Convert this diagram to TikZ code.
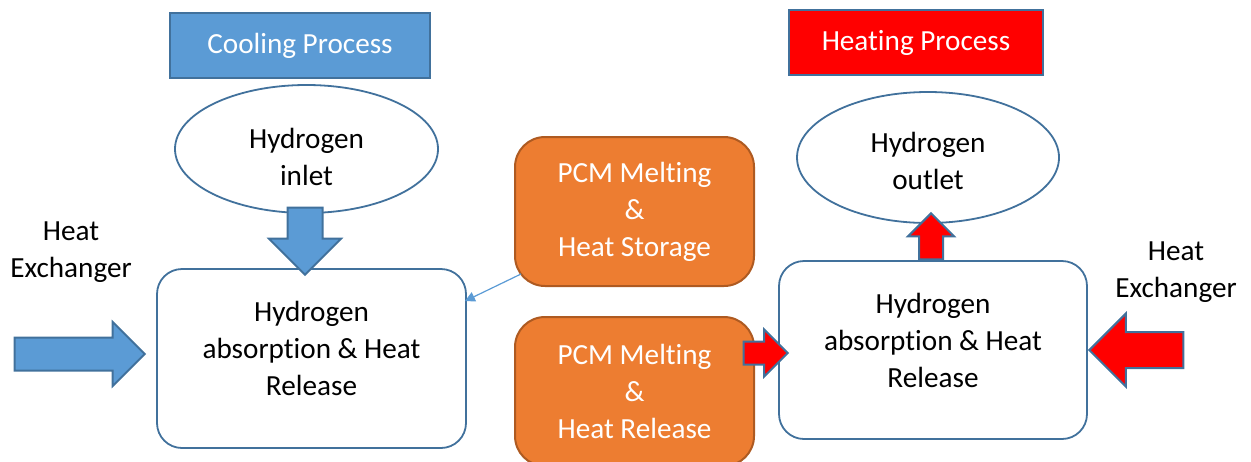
\documentclass[tikz,border=0pt]{standalone}
\usepackage{fontspec}
\setmainfont{Carlito}[Ligatures=NoCommon]
\usepackage{tikz}
\usetikzlibrary{positioning,shapes,arrows.meta,calc}
\definecolor{coolblue}{HTML}{5B9BD5}
\definecolor{edgeblue}{HTML}{41719C}
\definecolor{pcmorange}{HTML}{ED7D31}
\definecolor{edgeorange}{HTML}{AE5A21}
\definecolor{hotred}{HTML}{FF0000}

\tikzset{
  every node/.style={font=\fontsize{14.6}{18.5}\selectfont, align=center, inner sep=0pt},
  procbox/.style={rectangle, draw=edgeblue, line width=1.3pt, text=white, minimum width=#1, minimum height=32.5pt},
  gasball/.style={ellipse, draw=edgeblue, line width=0.9pt, fill=white, minimum width=131.5pt, minimum height=64pt},
  hydbox/.style={rectangle, rounded corners=12.5pt, draw=edgeblue, line width=0.9pt, minimum width=154.5pt, minimum height=89.5pt},
  pcmbox/.style={rectangle, rounded corners=15pt, draw=edgeorange, fill=pcmorange, line width=1pt, text=white, minimum width=119.5pt, minimum height=74.5pt},
  blockarrow/.style={single arrow, draw=edgeblue, line width=1pt, single arrow tip angle=90, anchor=tip, inner sep=0pt}
}

\begin{document}
\begin{tikzpicture}[x=0.5pt,y=-0.5pt]
            \useasboundingbox (0,0) rectangle (1251,461);
            \node[procbox=130pt, fill=coolblue] (cooling) at (300,45.5) {Cooling Process};
            \node[procbox=127pt, fill=hotred] (heating) at (916,42.5) {Heating Process};
            \node[gasball] (inlet) at (306.5,149) {};
            \node (inlettext) at ([yshift=-4pt]inlet.center) {Hydrogen\\inlet};
            \node[gasball, minimum width=131pt, minimum height=65.5pt] (outlet) at (928,157.5) {};
            \node (outlettext) at ([yshift=-1.5pt]outlet.center) {Hydrogen\\outlet};
            \node[hydbox] (leftbox) at (311.5,358.5) {};
            \node (lefttext) at ([yshift=5pt]leftbox.center) {Hydrogen\\absorption \& Heat\\Release};
            \node[hydbox, minimum width=154pt, minimum height=89pt] (rightbox) at (933,350) {};
            \node (righttext) at ([yshift=5pt]rightbox.center) {Hydrogen\\absorption \& Heat\\Release};
            \node[pcmbox] (pcmtop) at (634.5,211.5) {PCM Melting\\\&\\Heat Storage};
            \node[pcmbox] (pcmbot) at (634.5,391.5) {PCM Melting\\\&\\Heat Release};
            \node (hxleft) at (71,252) {Heat\\Exchanger};
            \node (hxright) at (1176,272) {Heat\\Exchanger};
            \node[blockarrow, fill=coolblue, shape border rotate=270, minimum height=33.5pt, minimum width=35pt, inner xsep=8.25pt, single arrow head extend=9.25pt] (inarrow) at ($(inlet.center |- leftbox.north)+(-1.5,8)$) {};
            \node[blockarrow, fill=coolblue, minimum height=65pt, minimum width=31pt, inner ysep=7.75pt, single arrow head extend=7.75pt] (hxinarrow) at ($(leftbox.west)+(-10,-4.5)$) {};
            \node[blockarrow, fill=hotred, minimum height=22pt, minimum width=22.5pt, inner ysep=5.25pt, single arrow head extend=6pt] (pcmarrow) at ($(rightbox.west)+(11,3)$) {};
            \node[blockarrow, fill=hotred, shape border rotate=90, minimum height=23pt, minimum width=22pt, inner xsep=5.5pt, single arrow head extend=5.5pt] (outarrow) at ($(outlet.south)+(3,-12)$) {};
            \node[blockarrow, fill=hotred, shape border rotate=180, minimum height=47pt, minimum width=35.5pt, inner ysep=8.5pt, single arrow head extend=9.25pt] (hxoutarrow) at (rightbox.east) {};
            \draw[coolblue, line width=0.6pt, -{Triangle[length=5pt,width=5pt]}] ($(pcmtop.south west)+(7,-13)$) -- ($(leftbox.north east)+(-2,33)$);
\end{tikzpicture}
\end{document}
